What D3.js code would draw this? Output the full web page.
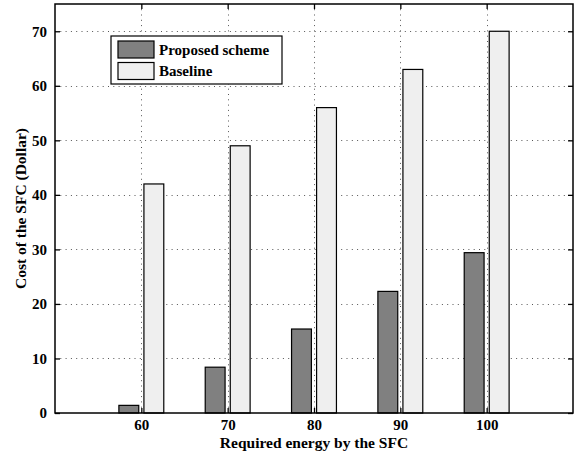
<!DOCTYPE html>
<html>
<head>
<meta charset="utf-8">
<script src="https://cdn.jsdelivr.net/npm/d3@7"></script>
<style>
  body { margin: 0; background: #fff; }
  svg { display: block; }
  text { font-family: "Liberation Serif", "Times New Roman", serif; font-weight: bold; fill: #000; }
</style>
</head>
<body>
<svg id="chart" width="579" height="454"></svg>
<script>
// Cost of the SFC versus the energy it requires
const energies = [60, 70, 80, 90, 100];
const proposedCost = [1.4, 8.4, 15.4, 22.3, 29.4];
const baselineCost = [42, 49, 56, 63, 70];
const seriesNames = ["Proposed scheme", "Baseline"];
const seriesColors = ["#808080", "#efefef"];
const xTicks = [60, 70, 80, 90, 100];
const yTicks = [0, 10, 20, 30, 40, 50, 60, 70];

const svg = d3.select("#chart");
const margin = { left: 55, right: 6, top: 4, bottom: 41 };
const W = 579, H = 454;
const x0 = margin.left, x1 = W - margin.right, y0 = H - margin.bottom, y1 = margin.top;

const x = d3.scaleLinear().domain([50, 110]).range([x0, x1]);
const y = d3.scaleLinear().domain([0, 75]).range([y0, y1]);

const barWidth = 2.3;   // in energy units
const barOffset = 1.45; // half-spacing between paired bars

// grid
const grid = svg.append("g").attr("stroke", "#555").attr("stroke-width", 1)
  .attr("stroke-dasharray", "1,4.3");
grid.selectAll(".gy").data(yTicks.filter(v => v > 0)).join("line")
  .attr("x1", x0).attr("x2", x1)
  .attr("y1", d => Math.round(y(d)) + 0.5).attr("y2", d => Math.round(y(d)) + 0.5);
grid.selectAll(".gx").data(xTicks).join("line")
  .attr("y1", y0).attr("y2", y1)
  .attr("x1", d => Math.round(x(d)) + 0.5).attr("x2", d => Math.round(x(d)) + 0.5);

// bars
const series = [proposedCost, baselineCost];
series.forEach((vals, si) => {
  const off = si === 0 ? -barOffset : barOffset;
  svg.append("g").selectAll("rect").data(vals).join("rect")
    .attr("x", (d, i) => x(energies[i] + off - barWidth / 2))
    .attr("width", x(barWidth) - x(0))
    .attr("y", d => y(d))
    .attr("height", d => y(0) - y(d))
    .attr("fill", seriesColors[si])
    .attr("stroke", "#000")
    .attr("stroke-width", 1.2);
});

// axes
const axB = d3.axisBottom(x).tickValues(xTicks).tickSize(-5).tickPadding(6.5);
const axT = d3.axisTop(x).tickValues(xTicks).tickSize(-5).tickFormat("");
const axL = d3.axisLeft(y).tickValues(yTicks).tickSize(-5).tickPadding(8);
const axR = d3.axisRight(y).tickValues(yTicks).tickSize(-5).tickFormat("");

function styleAxis(g) {
  g.select(".domain").remove();
  g.selectAll("line").attr("stroke", "#000").attr("stroke-width", 1.3);
  g.selectAll("text").attr("font-size", 15).attr("font-family", "Liberation Serif").attr("font-weight", "bold");
}
svg.append("g").attr("transform", `translate(0,${y0})`).call(axB).call(styleAxis);
svg.append("g").attr("transform", `translate(0,${y1})`).call(axT).call(styleAxis);
svg.append("g").attr("transform", `translate(${x0},0)`).call(axL).call(styleAxis);
svg.append("g").attr("transform", `translate(${x1},0)`).call(axR).call(styleAxis);

// frame
svg.append("rect").attr("x", x0).attr("y", y1).attr("width", x1 - x0).attr("height", y0 - y1)
  .attr("fill", "none").attr("stroke", "#000").attr("stroke-width", 1.5);

// axis titles
svg.append("text").attr("x", (x0 + x1) / 2).attr("y", 448).attr("text-anchor", "middle")
  .attr("font-size", 15.5).text("Required energy by the SFC");
svg.append("text").attr("transform", `translate(26,${(y0 + y1) / 2}) rotate(-90)`)
  .attr("text-anchor", "middle").attr("font-size", 15.5).text("Cost of the SFC (Dollar)");

// legend
const lg = svg.append("g").attr("transform", "translate(111,36)");
lg.append("rect").attr("width", 171).attr("height", 48).attr("fill", "#fff")
  .attr("stroke", "#000").attr("stroke-width", 1.2);
seriesNames.forEach((name, i) => {
  const row = lg.append("g").attr("transform", `translate(7,${5 + i * 21.5})`);
  row.append("rect").attr("width", 36).attr("height", 17).attr("fill", seriesColors[i])
    .attr("stroke", "#000").attr("stroke-width", 1.2);
  row.append("text").attr("x", 41).attr("y", 13.5).attr("font-size", 15).text(name);
});
</script>
</body>
</html>
